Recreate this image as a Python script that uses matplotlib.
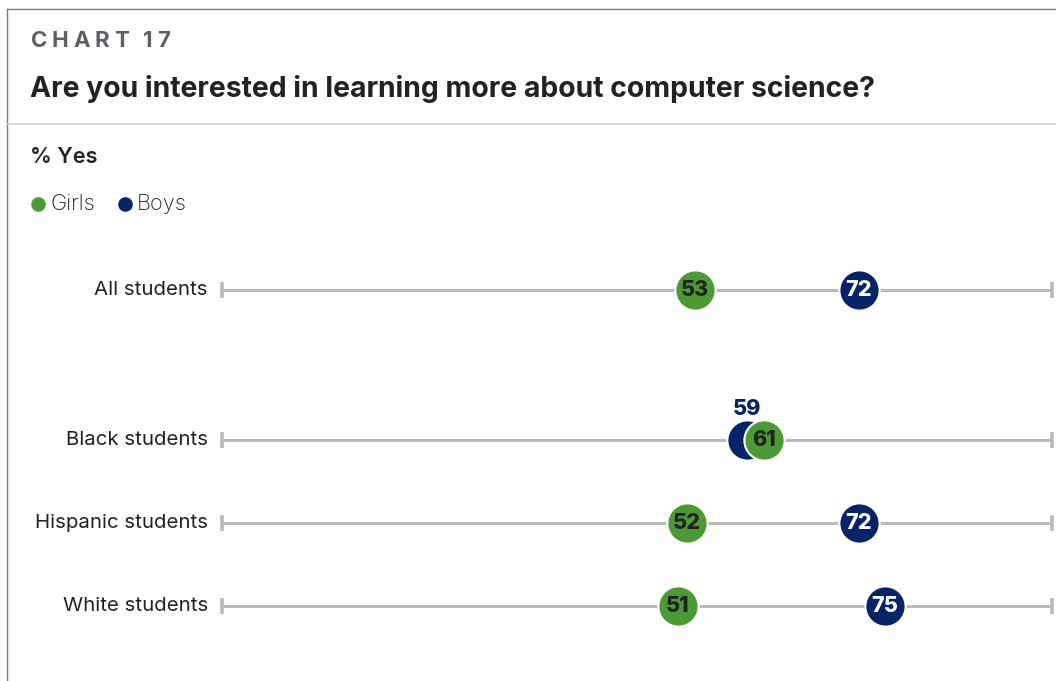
import matplotlib
matplotlib.use("Agg")
import matplotlib.pyplot as plt
from matplotlib.lines import Line2D

# ---- data ----
categories = ["All students", "Black students", "Hispanic students", "White students"]
girls = [53, 61, 52, 51]
boys = [72, 59, 72, 75]
series_names = ["Girls", "Boys"]

GREEN = "#4b9b34"
NAVY = "#04246a"
GRAY_LINE = "#b9bbbb"
TEXT = "#222222"

plt.rcParams['font.family'] = ['Inter', 'DejaVu Sans']

W, H = 1056, 681
fig = plt.figure(figsize=(W / 100, H / 100), dpi=100)
fig.patch.set_facecolor("white")

def fx(px):
    return px / W

def fy(py):
    return 1 - py / H

# frame lines
fig.add_artist(Line2D([fx(6.5), 1], [fy(8.5), fy(8.5)], color="#7a7a7a", lw=1.0))
fig.add_artist(Line2D([fx(6.5), fx(6.5)], [fy(8.5), 0], color="#7a7a7a", lw=1.0))
fig.add_artist(Line2D([fx(6.5), 1], [fy(123.5), fy(123.5)], color="#cfcfcf", lw=1.2))

# "CHART 17" with letter spacing
renderer = fig.canvas.get_renderer()
x = 31
for ch in "CHART 17":
    t = fig.text(fx(x), fy(41), ch, fontsize=16, fontweight="bold", color="#5c6166",
                 va="center", ha="left")
    bb = t.get_window_extent(renderer=renderer)
    w = bb.width if ch != " " else 5
    x += w + 4.6

fig.text(fx(30), fy(89), "Are you interested in learning more about computer science?",
         fontsize=20.4, fontweight="bold", color=TEXT, va="center", ha="left")
fig.text(fx(30), fy(157), "% Yes", fontsize=15.6, fontweight="semibold", color=TEXT,
         va="center", ha="left")

# legend
fig.add_artist(Line2D([fx(38)], [fy(204)], marker="o", ms=10.5, color=GREEN, mec="none"))
fig.text(fx(50), fy(204), series_names[0], fontsize=15.8, fontweight="light", color=TEXT,
         va="center", ha="left")
fig.add_artist(Line2D([fx(125)], [fy(204)], marker="o", ms=10.5, color=NAVY, mec="none"))
fig.text(fx(137), fy(204), series_names[1], fontsize=15.8, fontweight="light", color=TEXT,
         va="center", ha="left")

# ---- main dot plot axes ----
ax_left_px, ax_right_px = 222, 1052
ax_top_px, ax_bot_px = 250, 650
ax = fig.add_axes([fx(ax_left_px), fy(ax_bot_px),
                   (ax_right_px - ax_left_px) / W, (ax_bot_px - ax_top_px) / H])
ax.set_xlim(-1.93, 94.4)
row_pos = [0, 1.8, 2.8, 3.8]
ax.set_ylim(4.33, -0.48)
ax.axis("off")

for i, cat in enumerate(categories):
    y = row_pos[i]
    ax.plot([0, 1], [y, y], transform=ax.get_yaxis_transform(), color=GRAY_LINE,
            lw=2.2, solid_capstyle="butt", zorder=1)
    for xe in (0, 1):
        ax.plot([xe, xe], [y - 0.095, y + 0.095], transform=ax.get_yaxis_transform(),
                color=GRAY_LINE, lw=2.6, solid_capstyle="butt", zorder=1, clip_on=False)
    ax.text(-0.017, y, cat, transform=ax.get_yaxis_transform(), ha="right", va="center",
            fontsize=14.7, color=TEXT)

    g, b = girls[i], boys[i]
    overlap = abs(g - b) < 4
    # boys drawn first, girls on top
    ax.plot([b], [y], marker="o", ms=29, color=NAVY, mec="white", mew=1.5, zorder=3,
            clip_on=False)
    ax.plot([g], [y], marker="o", ms=29, color=GREEN, mec="white", mew=1.5, zorder=4,
            clip_on=False)
    ax.text(g, y, f"{g}", ha="center", va="center", fontsize=15.5, fontweight="heavy",
            color=TEXT, zorder=5)
    if overlap:
        ax.text(b, y - 0.37, f"{b}", ha="center", va="center", fontsize=15.5,
                fontweight="heavy", color=NAVY, zorder=5)
    else:
        ax.text(b, y, f"{b}", ha="center", va="center", fontsize=15.5, fontweight="heavy",
                color="white", zorder=5)

fig.savefig("out.png", dpi=100, facecolor="white")
